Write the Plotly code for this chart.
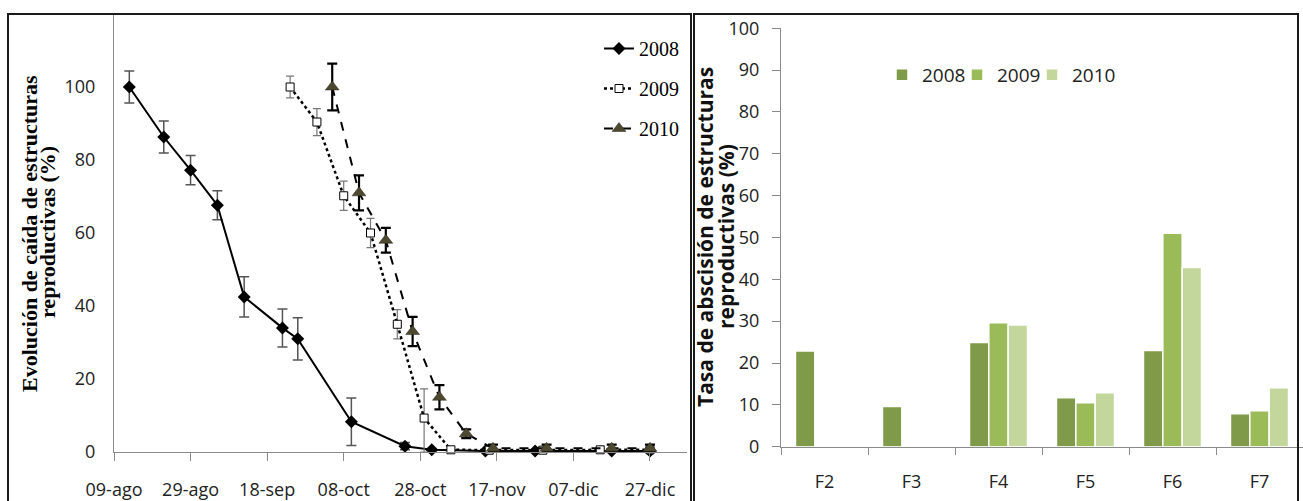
import plotly.graph_objects as go

# ---------------- data: left panel (evolution of fall, %) ----------------
dates_2008 = ['2008-08-13', '2008-08-22', '2008-08-29', '2008-09-05', '2008-09-12',
              '2008-09-22', '2008-09-26', '2008-10-10', '2008-10-24', '2008-10-31',
              '2008-11-14', '2008-11-27', '2008-12-17', '2008-12-27']
vals_2008 = [100, 86.3, 77.2, 67.6, 42.5, 34, 31, 8.3, 1.6, 0.6, 0.3, 0.3, 0.3, 0.3]
err_2008 = [4.4, 4.4, 4.0, 4.0, 5.5, 5.2, 5.8, 6.5, 1.0, 0.3, 0.2, 0.2, 0.2, 0.2]

dates_2009 = ['2008-09-24', '2008-10-01', '2008-10-08', '2008-10-15', '2008-10-22',
              '2008-10-29', '2008-11-05', '2008-11-15', '2008-11-29', '2008-12-14',
              '2008-12-27']
vals_2009 = [100, 90.4, 70.2, 60, 35, 9.3, 0.6, 0.5, 0.5, 0.6, 0.6]
err_2009_plus = [3.0, 3.7, 4.0, 4.0, 4.0, 8.0, 0.3, 0.3, 0.3, 0.3, 0.3]
err_2009_minus = [3.0, 3.7, 4.0, 4.0, 4.0, 9.3, 0.3, 0.3, 0.3, 0.3, 0.3]

dates_2010 = ['2008-10-05', '2008-10-12', '2008-10-19', '2008-10-26', '2008-11-02',
              '2008-11-09', '2008-11-16', '2008-11-30', '2008-12-17', '2008-12-27']
vals_2010 = [100, 71, 58, 33, 15, 5, 1, 1, 1, 1]
err_2010 = [6.4, 4.8, 3.4, 4.0, 3.3, 1.2, 1.0, 1.0, 1.0, 1.0]

x_tick_vals = ['2008-08-09', '2008-08-29', '2008-09-18', '2008-10-08',
               '2008-10-28', '2008-11-17', '2008-12-07', '2008-12-27']
x_tick_text = ['09-ago', '29-ago', '18-sep', '08-oct', '28-oct', '17-nov', '07-dic', '27-dic']
y_left_ticks = [0, 20, 40, 60, 80, 100]

# ---------------- data: right panel (abscission rate, %) ----------------
phases = ['F2', 'F3', 'F4', 'F5', 'F6', 'F7']
bars_2008 = [22.9, 9.6, 24.9, 11.7, 23.0, 7.9]
bars_2009 = [None, None, 29.6, 10.5, 51.0, 8.6]
bars_2010 = [None, None, 29.1, 12.9, 42.8, 14.1]
y_right_ticks = [0, 10, 20, 30, 40, 50, 60, 70, 80, 90, 100]

W, H = 1303, 501
def px(x):
    return x / W
def py(y):
    return 1 - y / H

SANS = 'Open Sans, Calibri, sans-serif'
SERIF = 'Liberation Serif, Times New Roman, serif'
AXIS_GRAY = '#8a8a8a'
TICK_FONT = dict(family=SANS, size=18, color='#222222')

fig = go.Figure()

fig.add_trace(go.Scatter(
    x=dates_2008, y=vals_2008, name='2008', legendgroup='a', legend='legend',
    mode='lines+markers', cliponaxis=False,
    line=dict(color='black', width=2),
    marker=dict(symbol='diamond', size=10, color='black'),
    error_y=dict(type='data', array=err_2008, color='#555555', thickness=1.5, width=5),
    xaxis='x', yaxis='y'))

fig.add_trace(go.Scatter(
    x=dates_2009, y=vals_2009, name='2009', legendgroup='b', legend='legend',
    mode='lines+markers', cliponaxis=False,
    line=dict(color='black', width=2.5, dash='dot'),
    marker=dict(symbol='square', size=8, color='white', line=dict(color='black', width=1)),
    error_y=dict(type='data', array=err_2009_plus, arrayminus=err_2009_minus,
                 color='#777777', thickness=1.2, width=4),
    xaxis='x', yaxis='y'))

fig.add_trace(go.Scatter(
    x=dates_2010, y=vals_2010, name='2010', legendgroup='c', legend='legend',
    mode='lines+markers', cliponaxis=False,
    line=dict(color='black', width=2, dash='dash'),
    marker=dict(symbol='triangle-up', size=12, color='#4d4830', line=dict(color='#2a2718', width=0.5)),
    error_y=dict(type='data', array=err_2010, color='black', thickness=2.2, width=5),
    xaxis='x', yaxis='y'))

bar_colors = ['#7f9a48', '#9bbb59', '#c3d69b']
bar_legends = ['legend2', 'legend3', 'legend4']
for name, vals, col, lg in zip(['2008', '2009', '2010'], [bars_2008, bars_2009, bars_2010],
                               bar_colors, bar_legends):
    fig.add_trace(go.Bar(
        x=phases, y=vals, name=name, legend=lg,
        marker=dict(color=col, line=dict(color='white', width=1.5)),
        xaxis='x2', yaxis='y2'))

bar_legend_style = dict(yanchor='top', xanchor='left', orientation='h',
                        bgcolor='rgba(0,0,0,0)',
                        font=dict(family=SANS, size=19, color='#222222'))

fig.update_layout(
    width=W, height=H,
    margin=dict(l=0, r=0, t=0, b=0, autoexpand=False),
    paper_bgcolor='white', plot_bgcolor='white',
    barmode='group', bargap=0.333, bargroupgap=0,
    font=dict(family=SANS, size=17, color='#222222'),
    xaxis=dict(
        domain=[px(114), px(687)], anchor='y', type='date', automargin=False,
        range=['2008-08-09', '2009-01-05 16:00'],
        tickmode='array', tickvals=x_tick_vals, ticktext=x_tick_text,
        showline=True, linecolor=AXIS_GRAY, linewidth=1,
        ticks='outside', ticklen=8, tickcolor=AXIS_GRAY,
        showgrid=False, zeroline=False, ticklabelstandoff=13,
        tickfont=TICK_FONT),
    yaxis=dict(
        domain=[py(452), py(14)], anchor='x', range=[0, 120], automargin=False,
        tickmode='array', tickvals=y_left_ticks,
        showline=True, linecolor=AXIS_GRAY, linewidth=1,
        ticks='', showgrid=False, zeroline=False, ticklabelstandoff=14,
        tickfont=TICK_FONT),
    xaxis2=dict(
        domain=[px(781), 1.0], anchor='y2', type='category', automargin=False,
        range=[-0.5, 5.5],
        showline=True, linecolor=AXIS_GRAY, linewidth=1,
        ticks='outside', ticklen=7, tickcolor=AXIS_GRAY, tickson='boundaries',
        showgrid=False, zeroline=False, ticklabelstandoff=19,
        tickfont=TICK_FONT),
    yaxis2=dict(
        domain=[py(446.7), py(28.3)], anchor='x2', range=[0, 100], automargin=False,
        tickmode='array', tickvals=y_right_ticks,
        showline=True, linecolor=AXIS_GRAY, linewidth=1,
        ticks='outside', ticklen=8, tickcolor=AXIS_GRAY,
        showgrid=False, zeroline=False, ticklabelstandoff=9,
        tickfont=TICK_FONT),
    legend=dict(
        x=px(599), y=py(29), xanchor='left', yanchor='top',
        orientation='v', tracegroupgap=11, bgcolor='rgba(0,0,0,0)',
        font=dict(family=SERIF, size=20, color='black')),
    legend2=dict(x=px(882), y=py(56), **bar_legend_style),
    legend3=dict(x=px(957), y=py(56), **bar_legend_style),
    legend4=dict(x=px(1032), y=py(56), **bar_legend_style),
    showlegend=True,
)

# panel frames
fig.add_shape(type='rect', xref='paper', yref='paper',
              x0=px(8), x1=px(691), y0=-0.2, y1=py(14),
              line=dict(color='#1a1a1a', width=2), layer='above')
fig.add_shape(type='rect', xref='paper', yref='paper',
              x0=px(694), x1=px(1298), y0=-0.2, y1=py(14),
              line=dict(color='#1a1a1a', width=2), layer='above')

# y-axis titles (two lines each, placed separately)
fig.add_annotation(text='<b>Evolución de caída de estructuras</b>', xref='paper', yref='paper',
                   x=px(29), y=py(234), xanchor='center', yanchor='middle', textangle=-90,
                   showarrow=False, font=dict(family=SERIF, size=22, color='black'))
fig.add_annotation(text='<b>reproductivas (%)</b>', xref='paper', yref='paper',
                   x=px(47), y=py(232), xanchor='center', yanchor='middle', textangle=-90,
                   showarrow=False, font=dict(family=SERIF, size=22, color='black'))
fig.add_annotation(text='<b>Tasa de abscisión de estructuras</b>', xref='paper', yref='paper',
                   x=px(705), y=py(237), xanchor='center', yanchor='middle', textangle=-90,
                   showarrow=False, font=dict(family=SANS, size=21, color='#111111'))
fig.add_annotation(text='<b>reproductivas (%)</b>', xref='paper', yref='paper',
                   x=px(726), y=py(237), xanchor='center', yanchor='middle', textangle=-90,
                   showarrow=False, font=dict(family=SANS, size=21, color='#111111'))

fig.write_html('out.html')
